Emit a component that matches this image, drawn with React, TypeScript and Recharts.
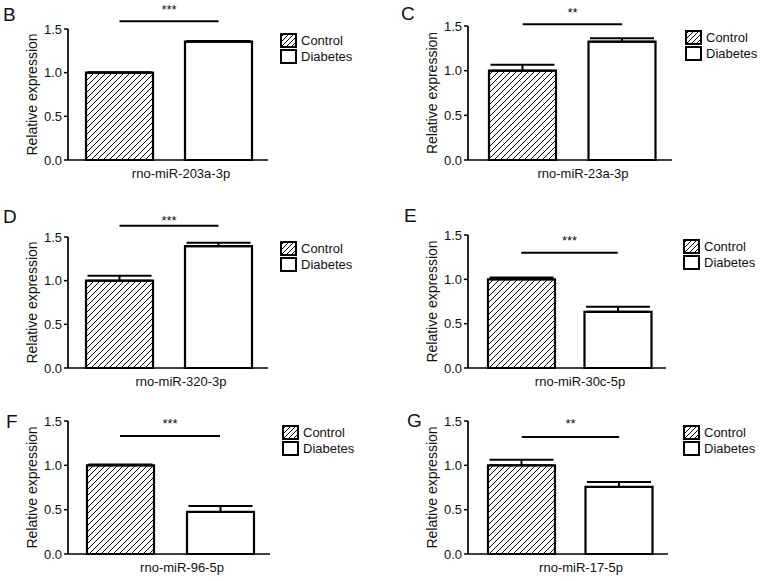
import React from 'react';
import { BarChart, Bar, Cell, XAxis, YAxis, ErrorBar, ReferenceLine, Legend } from 'recharts';

const groups = ['Control', 'Diabetes'];
const panelLetters = ['B', 'C', 'D', 'E', 'F', 'G'];
const genes = [
  'rno-miR-203a-3p',
  'rno-miR-23a-3p',
  'rno-miR-320-3p',
  'rno-miR-30c-5p',
  'rno-miR-96-5p',
  'rno-miR-17-5p',
];
const controlMeans = [1.0, 1.0, 1.0, 1.0, 1.0, 1.0];
const controlSems = [0.005, 0.065, 0.057, 0.02, 0.01, 0.064];
const diabetesMeans = [1.355, 1.325, 1.395, 0.633, 0.474, 0.756];
const diabetesSems = [0.008, 0.037, 0.04, 0.057, 0.067, 0.056];
const stars = ['***', '**', '***', '***', '***', '**'];
const starLineLevels = [1.59, 1.52, 1.63, 1.3, 1.33, 1.32];
const yTicks = [0, 0.5, 1.0, 1.5];

// where each panel's plot area sits on the page
const frames = [
  { axisX: 68, top: 29, bottom: 160, right: 268, padLeft: 2, starGap: 7, legendX: 281 },
  { axisX: 468, top: 26, bottom: 160, right: 672, padLeft: 5, starGap: 7.5, legendX: 686 },
  { axisX: 68, top: 237, bottom: 368, right: 268, padLeft: 2, starGap: 1, legendX: 281 },
  { axisX: 468, top: 235, bottom: 368, right: 666, padLeft: 5, starGap: 8, legendX: 684 },
  { axisX: 68, top: 421, bottom: 554, right: 270, padLeft: 2, starGap: 8.5, legendX: 283 },
  { axisX: 468, top: 421, bottom: 554, right: 668, padLeft: 5, starGap: 9, legendX: 684 },
];
const letterPos = [
  [3, 5],
  [401, 4],
  [3, 207],
  [404, 206],
  [6, 412],
  [407, 411],
];

const MARGIN_TOP = 30;
const MARGIN_RIGHT = 110;
const Y_AXIS_W = 68;
const X_AXIS_H = 34;
const FONT = '"Liberation Sans", Arial, Helvetica, sans-serif';
const INK = '#111';

function Hatch({ id, step }: { id: string; step: number }) {
  const s = step;
  return (
    <pattern id={id} patternUnits="userSpaceOnUse" width={s} height={s}>
      <path
        d={`M-1,1 l2,-2 M0,${s} l${s},-${s} M${s - 1},${s + 1} l2,-2`}
        stroke="#000"
        strokeWidth={1}
      />
    </pattern>
  );
}

function LegendBox({ id }: { id: string }) {
  return (
    <div style={{ fontFamily: FONT, fontSize: 13, color: INK }}>
      {groups.map((g, k) => (
        <div key={g} style={{ display: 'flex', alignItems: 'center', height: 16 }}>
          <svg width={17} height={15} style={{ display: 'block' }}>
            <defs>
              <Hatch id={`${id}-lg`} step={5} />
            </defs>
            <rect
              x={1}
              y={1}
              width={15}
              height={13}
              fill={k === 0 ? `url(#${id}-lg)` : '#fff'}
              stroke="#000"
              strokeWidth={2}
            />
          </svg>
          <span style={{ marginLeft: 4 }}>{g}</span>
        </div>
      ))}
    </div>
  );
}

function Panel({ i }: { i: number }) {
  const f = frames[i];
  const id = `hatch-${panelLetters[i]}`;
  const data = groups.map((g, k) => ({
    group: g,
    value: k === 0 ? controlMeans[i] : diabetesMeans[i],
    err: [0, k === 0 ? controlSems[i] : diabetesSems[i]],
  }));
  const plotW = f.right - f.axisX;
  const plotH = f.bottom - f.top;
  const width = Y_AXIS_W + plotW + MARGIN_RIGHT;
  const height = MARGIN_TOP + plotH + X_AXIS_H;
  const left = f.axisX - Y_AXIS_W;

  return (
    <div style={{ position: 'absolute', left, top: f.top - MARGIN_TOP }}>
      <BarChart
        width={width}
        height={height}
        data={data}
        margin={{ top: MARGIN_TOP, right: MARGIN_RIGHT, bottom: 0, left: 0 }}
        barSize={67}
      >
        <defs>
          <Hatch id={id} step={6} />
        </defs>
        <XAxis
          dataKey="group"
          tick={false}
          tickSize={4}
          height={X_AXIS_H}
          padding={{ left: f.padLeft, right: 0 }}
          axisLine={{ stroke: '#000', strokeWidth: 1.7 }}
          tickLine={{ stroke: '#000', strokeWidth: 1.5 }}
          label={{
            value: genes[i],
            position: 'insideTop',
            offset: 9,
            dx: 13,
            fontSize: 13,
            fill: INK,
          }}
        />
        <YAxis
          width={Y_AXIS_W}
          domain={[0, 1.5]}
          ticks={yTicks}
          tickFormatter={(v: number) => v.toFixed(1)}
          tickSize={4}
          axisLine={{ stroke: '#000', strokeWidth: 1.7 }}
          tickLine={{ stroke: '#000', strokeWidth: 1.5 }}
          tick={{ fill: INK, fontSize: 13 }}
          label={{
            value: 'Relative expression',
            angle: -90,
            position: 'center',
            dx: -2,
            fontSize: 14,
            fill: INK,
          }}
        />
        <Bar dataKey="value" stroke="#000" strokeWidth={2.2} isAnimationActive={false}>
          {data.map((d, k) => (
            <Cell key={d.group} fill={k === 0 ? `url(#${id})` : '#fff'} />
          ))}
          <ErrorBar dataKey="err" direction="y" width={32} stroke="#000" strokeWidth={2} />
        </Bar>
        <ReferenceLine
          segment={[
            { x: groups[0], y: starLineLevels[i] },
            { x: groups[1], y: starLineLevels[i] },
          ]}
          stroke="#000"
          strokeWidth={2}
          ifOverflow="visible"
          label={{ value: stars[i], position: 'top', offset: f.starGap, fontSize: 13, fill: INK }}
        />
        <Legend
          layout="vertical"
          align="center"
          verticalAlign="middle"
          wrapperStyle={{ left: f.legendX - left - 1, top: MARGIN_TOP + 3, width: 'auto', height: 'auto' }}
          content={() => <LegendBox id={id} />}
        />
      </BarChart>
    </div>
  );
}

export default function App() {
  return (
    <div
      style={{
        position: 'absolute',
        left: 0,
        top: 0,
        width: 765,
        height: 581,
        background: '#fff',
        fontFamily: FONT,
        overflow: 'hidden',
      }}
    >
      {panelLetters.map((l, i) => (
        <Panel key={l} i={i} />
      ))}
      {panelLetters.map((l, i) => (
        <div
          key={`lbl-${l}`}
          style={{
            position: 'absolute',
            left: letterPos[i][0],
            top: letterPos[i][1],
            fontSize: 19,
            lineHeight: 1,
            color: INK,
          }}
        >
          {l}
        </div>
      ))}
    </div>
  );
}
